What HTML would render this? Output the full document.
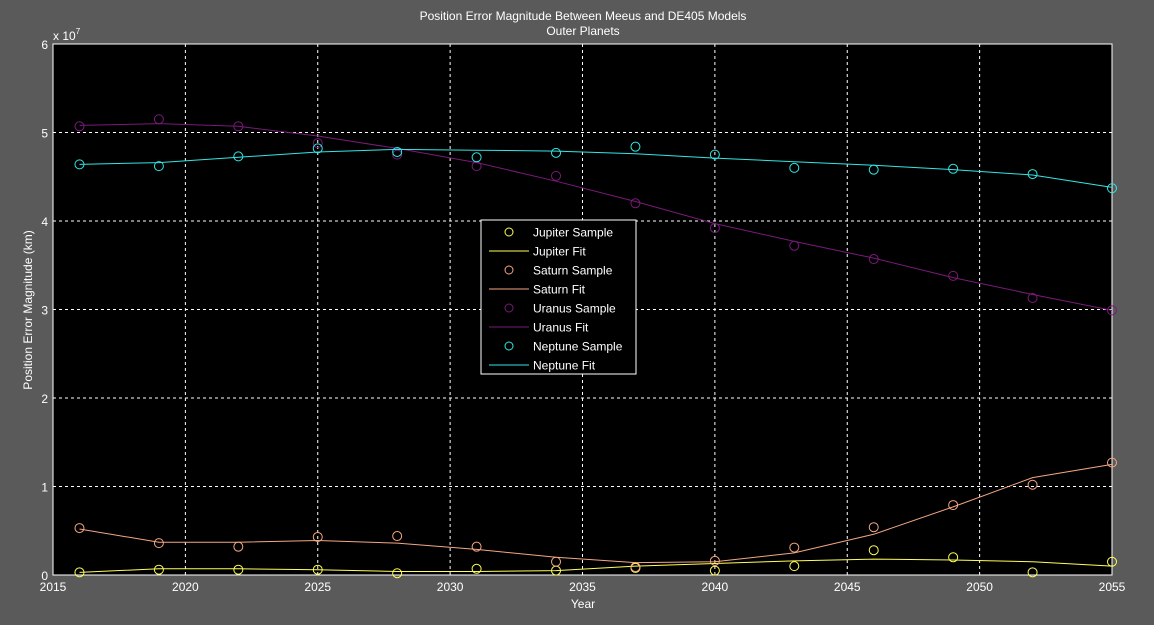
<!DOCTYPE html>
<html><head><meta charset="utf-8"><style>
body{margin:0;background:#5a5a5a;}
svg{display:block;font-family:"Liberation Sans",Arial,sans-serif;}
</style></head><body>
<svg id="chart" width="1154" height="625">
<rect width="1154" height="625" fill="#5a5a5a"/>
<rect x="53" y="44" width="1059" height="531" fill="#000"/>
<text x="583" y="20" fill="#fff" font-size="12" text-anchor="middle">Position Error Magnitude Between Meeus and DE405 Models</text>
<text x="583" y="35" fill="#fff" font-size="12" text-anchor="middle">Outer Planets</text>
<text x="583" y="608" fill="#fff" font-size="12" text-anchor="middle">Year</text>
<text transform="translate(32,310) rotate(-90)" fill="#fff" font-size="12" text-anchor="middle">Position Error Magnitude (km)</text>
<text x="53" y="40" fill="#fff" font-size="12">x 10<tspan font-size="8" dy="-6">7</tspan></text>
<g id="grid"></g><g id="series"></g><g id="legend"></g>
</svg>
<script>
const years=[2016,2019,2022,2025,2028,2031,2034,2037,2040,2043,2046,2049,2052,2055];
const xTicks=[2015,2020,2025,2030,2035,2040,2045,2050,2055];
const yTicks=[0,1,2,3,4,5,6];
const jupiterSample=[0.03,0.06,0.06,0.06,0.02,0.07,0.05,0.08,0.05,0.10,0.28,0.20,0.03,0.15];
const jupiterFit=[0.03,0.07,0.07,0.06,0.04,0.04,0.05,0.10,0.13,0.16,0.18,0.17,0.15,0.10];
const saturnSample=[0.53,0.36,0.32,0.43,0.44,0.32,0.15,0.09,0.16,0.31,0.54,0.79,1.02,1.27];
const saturnFit=[0.52,0.37,0.37,0.39,0.36,0.29,0.20,0.14,0.15,0.25,0.46,0.77,1.10,1.25];
const uranusSample=[5.07,5.15,5.07,4.88,4.75,4.62,4.51,4.20,3.92,3.72,3.57,3.38,3.13,2.99];
const uranusFit=[5.08,5.10,5.07,4.96,4.82,4.66,4.45,4.22,3.97,3.77,3.58,3.36,3.17,2.99];
const neptuneSample=[4.64,4.62,4.73,4.82,4.78,4.72,4.77,4.84,4.75,4.60,4.58,4.59,4.53,4.37];
const neptuneFit=[4.64,4.66,4.72,4.78,4.81,4.80,4.79,4.76,4.71,4.67,4.63,4.58,4.52,4.38];
const NS='http://www.w3.org/2000/svg';
const L=53,R=1112,T=44,B=575;
const x=v=>L+(v-2015)/40*(R-L);
const y=v=>B-v/6*(B-T);
function mk(tag,attrs,parent){const e=document.createElementNS(NS,tag);for(const k in attrs)e.setAttribute(k,attrs[k]);parent.appendChild(e);return e;}
const grid=document.getElementById('grid');
xTicks.forEach(t=>{
 const l=mk('line',{x1:x(t),x2:x(t),y1:T,y2:B,stroke:'#fff','stroke-dasharray':'3,3','stroke-width':1},grid);
 
 
 const tx=mk('text',{x:x(t),y:B+16,fill:'#fff','font-size':12,'text-anchor':'middle'},grid);tx.textContent=t;
 
 
});
yTicks.forEach(t=>{
 const l=mk('line',{x1:L,x2:R,y1:y(t),y2:y(t),stroke:'#fff','stroke-dasharray':'3,3','stroke-width':1},grid);
 
 
 const tx=mk('text',{x:L-5,y:y(t)+5,fill:'#fff','font-size':12,'text-anchor':'end'},grid);tx.textContent=t;
 
 
});
const frame=mk('rect',{x:L,y:T,width:R-L,height:B-T,fill:'none',stroke:'#fff','stroke-width':1},grid);


const ser=document.getElementById('series');
const defs=[['jupiter',jupiterSample,jupiterFit,'#ffff55','Jupiter'],['saturn',saturnSample,saturnFit,'#f4a882','Saturn'],['uranus',uranusSample,uranusFit,'#7a1a7a','Uranus'],['neptune',neptuneSample,neptuneFit,'#33e6e6','Neptune']];
defs.forEach(([id,s,f,c])=>{
 const p=mk('polyline',{points:years.map((yr,i)=>x(yr)+','+y(f[i])).join(' '),fill:'none',stroke:c,'stroke-width':1},ser);
 
 
 years.forEach((yr,i)=>{
  const ci=mk('circle',{cx:x(yr),cy:y(s[i]),r:4.5,fill:'none',stroke:c,'stroke-width':1},ser);
  
  
 });
});
const lg=document.getElementById('legend');
const box=mk('rect',{x:481,y:220,width:155,height:154,fill:'#000',stroke:'#fff','stroke-width':1},lg);


let ly=232;
defs.forEach(([id,s,f,c,name])=>{
 const ci=mk('circle',{cx:509,cy:ly,r:4,fill:'none',stroke:c},lg);
 
 
 let t=mk('text',{x:533,y:ly+4.5,fill:'#fff','font-size':12},lg);t.textContent=name+' Sample';
 
 
 ly+=19;
 const ln=mk('line',{x1:489,x2:529,y1:ly,y2:ly,stroke:c},lg);
 
 
 t=mk('text',{x:533,y:ly+4.5,fill:'#fff','font-size':12},lg);t.textContent=name+' Fit';
 
 
 ly+=19;
});
</script>
</body></html>
